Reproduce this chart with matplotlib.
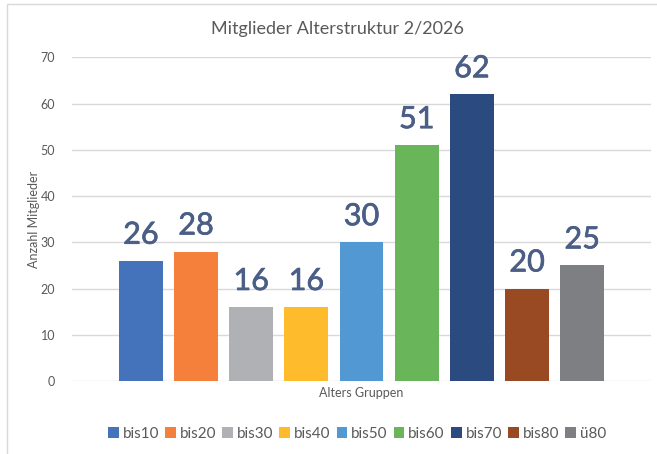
import matplotlib
matplotlib.use("Agg")
import matplotlib.pyplot as plt
import matplotlib.patheffects as pe
from matplotlib.patches import Rectangle, Patch

categories = ["bis10", "bis20", "bis30", "bis40", "bis50", "bis60", "bis70", "bis80", "ü80"]
values = [26, 28, 16, 16, 30, 51, 62, 20, 25]
colors = ["#4472BB", "#F5803C", "#B0B1B4", "#FEBC2C", "#5298D3",
          "#68B55A", "#2B4A80", "#9A4A22", "#7E7F83"]
yticks = [0, 10, 20, 30, 40, 50, 60, 70]

plt.rcParams['font.family'] = ['Lato', 'DejaVu Sans']

W, H = 657, 454
fig = plt.figure(figsize=(W / 100, H / 100), dpi=100)
fig.patch.set_facecolor("white")

# chart border
fig.add_artist(Rectangle((7 / W, -0.01), 1.05, 1 - 4 / H + 0.01, transform=fig.transFigure,
                         fill=False, edgecolor="#D9D9D9", linewidth=1.0))

ax = fig.add_axes([72 / W, (H - 381) / H, (651 - 72) / W, (381 - 57.3) / H])
x = list(range(len(categories)))
ax.bar(x, values, width=0.796, color=colors, zorder=3)
label_color = "#4B5E86"
for xi, v in zip(x, values):
    ax.text(xi, v + 2.6, str(v), ha="center", va="bottom", fontsize=22,
            color=label_color, zorder=4,
            path_effects=[pe.withStroke(linewidth=0.5, foreground=label_color)])

ax.set_xlim(-1.248, 9.248)
ax.set_ylim(0, 70)
ax.set_yticks(yticks)
ax.set_yticklabels([str(t) for t in yticks])
ax.set_xticks([])
ax.grid(axis="y", color="#D9D9D9", linewidth=1.0, zorder=0)
for s in ax.spines.values():
    s.set_visible(False)
ax.tick_params(axis="y", length=0, pad=12, labelsize=9, labelcolor="#595959")

ax.set_xlabel("Alters Gruppen", fontsize=9, color="#595959", labelpad=4)
ax.set_ylabel("Anzahl Mitglieder", fontsize=9, color="#595959")
ax.yaxis.set_label_coords(-0.0553, 0.5)

fig.text(337 / W, 1 - 29 / H, "Mitglieder Alterstruktur 2/2026", ha="center", va="center",
         fontsize=13, color="#595959")

handles = [Patch(facecolor=c, edgecolor="none") for c in colors]
leg = fig.legend(handles, categories, loc="center", bbox_to_anchor=(357 / W, 1 - 434 / H),
                 ncol=9, frameon=False, fontsize=11, handlelength=0.7, handleheight=0.7,
                 handletextpad=0.25, columnspacing=0.4, labelcolor="#595959")

fig.savefig("out.png", dpi=100, facecolor="white")
